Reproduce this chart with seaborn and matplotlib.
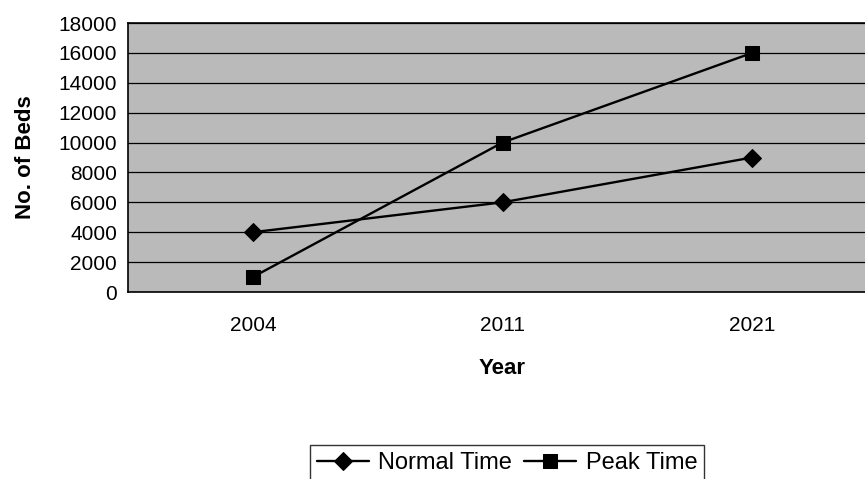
import pandas as pd
import matplotlib
matplotlib.use("Agg")
import matplotlib.pyplot as plt
import seaborn as sns

# ---- data ----
years = ["2004", "2011", "2021"]
normal_time = [4000, 6000, 9000]
peak_time = [1000, 10000, 16000]
series_names = ["Normal Time", "Peak Time"]
y_ticks = list(range(0, 18001, 2000))

df = pd.DataFrame({
    "pos": list(range(len(years))) * 2,
    "beds": normal_time + peak_time,
    "series": [series_names[0]] * len(years) + [series_names[1]] * len(years),
})

sns.set_style("white")
plt.rcParams["font.family"] = ["Liberation Sans", "DejaVu Sans"]
plt.rcParams["text.color"] = "black"
plt.rcParams["axes.labelcolor"] = "black"
plt.rcParams["xtick.color"] = "black"
plt.rcParams["ytick.color"] = "black"

fig = plt.figure(figsize=(8.65, 4.79), dpi=100)
ax = fig.add_axes([128 / 865, 187 / 479, 749 / 865, 269 / 479])
ax.set_facecolor("#bababa")

sns.lineplot(
    data=df, x="pos", y="beds", hue="series", style="series",
    palette=["black", "black"], markers=["D", "s"], dashes=False,
    markersize=9, linewidth=1.7, ax=ax, legend=True,
)
# marker sizes closer to the original
for line in ax.lines:
    line.set_markeredgecolor("black")
    if line.get_marker() == "D":
        line.set_markersize(9.5)
    elif line.get_marker() == "s":
        line.set_markersize(10.5)

ax.set_xlim(-0.5, len(years) - 0.5)
ax.set_ylim(0, 18000)
ax.set_yticks(y_ticks)
ax.set_yticklabels([str(v) for v in y_ticks], fontsize=15)
ax.yaxis.grid(True, color="black", linewidth=0.9)
ax.set_axisbelow(True)

ax.set_xticks(range(len(years)))
ax.set_xticklabels(years, fontsize=15)
ax.tick_params(axis="x", which="major", length=0, pad=17)
ax.set_xticks([i - 0.5 for i in range(len(years) + 1)], minor=True)
ax.tick_params(axis="x", which="minor", length=6, color="black", width=1, direction="out")
ax.tick_params(axis="y", length=6, color="black", width=1, direction="out", pad=2)

for side in ["left", "bottom", "top"]:
    ax.spines[side].set_visible(True)
    ax.spines[side].set_color("black")
    ax.spines[side].set_linewidth(1.2)
ax.spines["right"].set_visible(False)

ax.set_xlabel("Year", fontsize=16, fontweight="bold", labelpad=17)
ax.set_ylabel("No. of Beds", fontsize=16, fontweight="bold", labelpad=16)

handles, labels = ax.get_legend_handles_labels()
ax.get_legend().remove()
leg = fig.legend(
    handles, labels, loc="upper left", bbox_to_anchor=(310 / 865, 1 - 445 / 479),
    ncol=2, fontsize=17, frameon=True, fancybox=False, edgecolor="black",
    handlelength=2.2, columnspacing=0.5, handletextpad=0.4, borderpad=0.3,
    borderaxespad=0,
)
leg.get_frame().set_linewidth(1.0)

fig.savefig("out.png", dpi=100)
